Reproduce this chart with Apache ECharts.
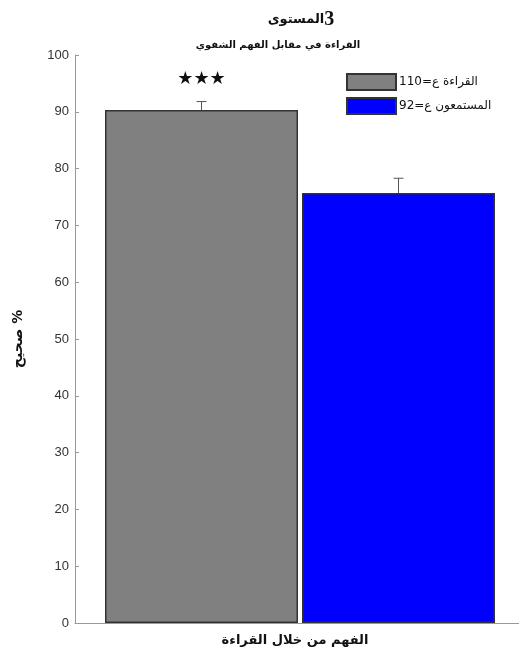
<!DOCTYPE html>
<html><head><meta charset="utf-8">
<script src="https://cdn.jsdelivr.net/npm/echarts@6/dist/echarts.min.js"></script>
<style>html,body{margin:0;padding:0;background:#fff}#c{width:519px;height:653px}</style>
</head><body><div id="c"></div>
<script>
const categories = ['الفهم من خلال القراءة'];
const seriesNames = ['القراءة ع=110', 'المستمعون ع=92'];
const means = [90.3, 75.7];
const errUpper = [91.8, 78.3];
const seriesColors = ['#808080', '#0000ff'];
const yTicks = [0, 10, 20, 30, 40, 50, 60, 70, 80, 90, 100];
const significance = '★★★';

const BAR_W = 193, BAR_GAP_PX = 4;
const AR = 'DejaVu Sans';

const chart = echarts.init(document.getElementById('c'));
const barSeries = seriesNames.map((n, i) => ({
  name: n, type: 'bar', data: [means[i]],
  barWidth: BAR_W, barGap: (BAR_GAP_PX / BAR_W * 100) + '%',
  itemStyle: { color: seriesColors[i], borderColor: '#333', borderWidth: 1.5 },
  label: i === 0 ? { show: true, position: 'top', distance: 22, formatter: significance,
    fontFamily: 'DejaVu Sans', fontSize: 18, color: '#111' } : { show: false },
  z: 2
}));
const errData = seriesNames.map((n, i) => [0, means[i], errUpper[i], i]);
chart.setOption({
  animation: false,
  title: [
    { text: '{a|المستوى}{b|3}', left: 296, top: 5, textAlign: 'center',
      textStyle: { rich: { a: { fontFamily: AR, fontWeight: 'bold', fontSize: 13, color: '#111' },
                           b: { fontFamily: 'Liberation Serif', fontSize: 20, color: '#111' } } } },
    { text: 'القراءة في مقابل الفهم الشفوي', left: 273, top: 35, textAlign: 'center',
      textStyle: { fontFamily: AR, fontWeight: 'bold', fontSize: 10, color: '#111' } }
  ],
  legend: {
    orient: 'vertical', left: 341, top: 68, itemWidth: 49, itemHeight: 16, itemGap: 6,
    data: seriesNames, icon: 'rect',
    textStyle: { fontFamily: AR, fontSize: 12, color: '#111', padding: [0, 0, 0, -2] }
  },
  grid: { left: 75, width: 450, top: 55, bottom: 30, outerBoundsMode: 'none', containLabel: false },
  xAxis: {
    type: 'category', data: categories,
    axisLine: { lineStyle: { color: '#999', width: 1 } },
    axisTick: { show: false },
    axisLabel: { fontFamily: AR, fontWeight: 'bold', fontSize: 13, color: '#111', margin: 11,
      padding: [0, 10, 0, 0] }
  },
  yAxis: {
    type: 'value', min: 0, max: 100, interval: 10,
    name: '\u200F% صحيح', nameLocation: 'middle', nameGap: 50,
    nameTextStyle: { fontFamily: AR, fontWeight: 'bold', fontSize: 14, color: '#111' },
    axisLine: { show: true, lineStyle: { color: '#999', width: 1 } },
    axisTick: { show: true, inside: true, length: 4, lineStyle: { color: '#999' } },
    splitLine: { show: false },
    axisLabel: { fontFamily: 'Liberation Sans', fontSize: 13, color: '#333', margin: 6,
      formatter: v => yTicks.includes(v) ? String(v) : '' }
  },
  series: barSeries.concat([{
    type: 'custom', z: 5, data: errData,
    renderItem: (params, api) => {
      const idx = api.value(3);
      const center = api.coord([api.value(0), 0])[0];
      const off = (idx === 0 ? -1 : 1) * (BAR_W + BAR_GAP_PX) / 2;
      const x = center + off;
      const yTop = api.coord([0, api.value(2)])[1];
      const yMean = api.coord([0, api.value(1)])[1];
      const st = { stroke: '#555', lineWidth: 1 };
      return { type: 'group', children: [
        { type: 'line', shape: { x1: x, y1: yMean, x2: x, y2: yTop }, style: st },
        { type: 'line', shape: { x1: x - 5, y1: yTop, x2: x + 5, y2: yTop }, style: st }
      ]};
    }
  }])
});
</script></body></html>
